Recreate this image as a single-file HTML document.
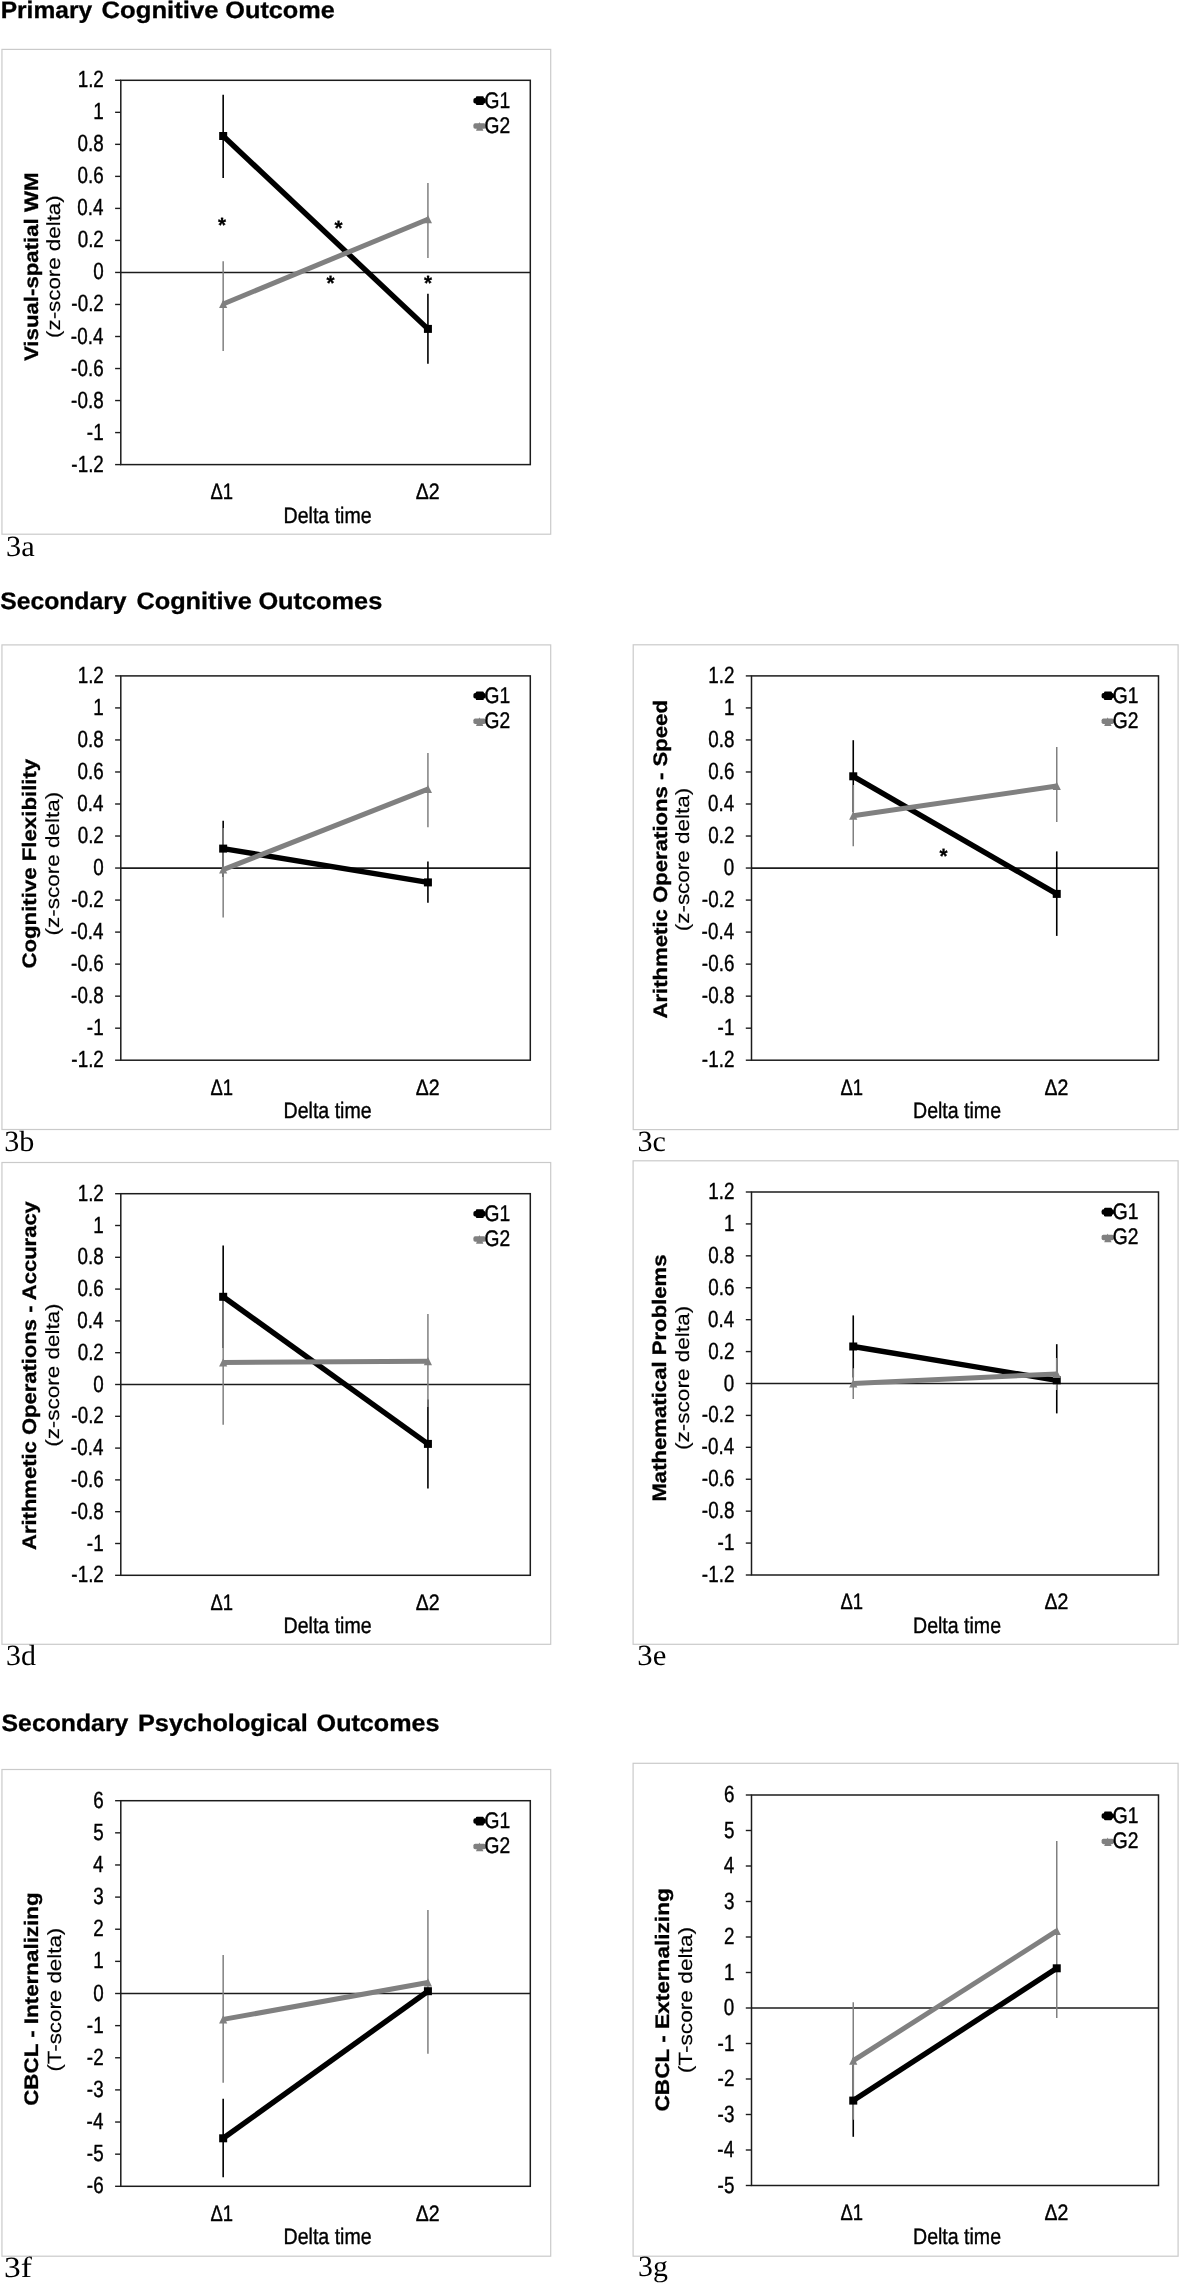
<!DOCTYPE html>
<html><head><meta charset="utf-8"><title>Figure 3</title>
<style>
html,body{margin:0;padding:0;background:#fff;}
body{width:1179px;height:2283px;overflow:hidden;font-family:"Liberation Sans",sans-serif;}
svg{display:block;will-change:transform;}
text{font-family:"Liberation Sans",sans-serif;text-rendering:geometricPrecision;}
text.b{font-weight:bold;}
text.n{stroke:#000;stroke-width:0.4px;}
text.r{stroke:#000;stroke-width:0.15px;}
text.b{stroke:#000;stroke-width:0.3px;}
text.s{font-family:"Liberation Serif",serif;}
</style></head><body>
<svg width="1179" height="2283" viewBox="0 0 1179 2283">
<rect width="1179" height="2283" fill="#fff"/>
<text class="b" transform="translate(0.66,18.00) scale(1.0316,1)" font-size="23.8" fill="#000">Primary</text>
<text class="b" transform="translate(101.57,18.00) scale(1.0778,1)" font-size="23.8" fill="#000">Cognitive</text>
<text class="b" transform="translate(225.29,18.00) scale(1.0623,1)" font-size="23.8" fill="#000">Outcome</text>
<text class="b" transform="translate(0.16,608.90) scale(1.0387,1)" font-size="23.8" fill="#000">Secondary</text>
<text class="b" transform="translate(136.39,608.90) scale(1.0637,1)" font-size="23.8" fill="#000">Cognitive</text>
<text class="b" transform="translate(258.39,608.90) scale(1.0640,1)" font-size="23.8" fill="#000">Outcomes</text>
<text class="b" transform="translate(1.56,1730.50) scale(1.0420,1)" font-size="23.8" fill="#000">Secondary</text>
<text class="b" transform="translate(138.02,1730.50) scale(1.0615,1)" font-size="23.8" fill="#000">Psychological</text>
<text class="b" transform="translate(316.60,1730.50) scale(1.0552,1)" font-size="23.8" fill="#000">Outcomes</text>
<rect x="1.95" y="49.4" width="548.75" height="484.80" fill="#fff" stroke="#cacaca" stroke-width="1.2"/>
<line x1="115.10" y1="80.30" x2="120.80" y2="80.30" stroke="#1c1c1c" stroke-width="1.4"/>
<text class="n" transform="translate(77.66,87.30) scale(0.8050,1)" font-size="23.4" fill="#000">1.2</text>
<line x1="115.10" y1="112.32" x2="120.80" y2="112.32" stroke="#1c1c1c" stroke-width="1.4"/>
<text class="n" transform="translate(93.36,119.32) scale(0.8050,1)" font-size="23.4" fill="#000">1</text>
<line x1="115.10" y1="144.35" x2="120.80" y2="144.35" stroke="#1c1c1c" stroke-width="1.4"/>
<text class="n" transform="translate(77.53,151.35) scale(0.8050,1)" font-size="23.4" fill="#000">0.8</text>
<line x1="115.10" y1="176.38" x2="120.80" y2="176.38" stroke="#1c1c1c" stroke-width="1.4"/>
<text class="n" transform="translate(77.53,183.38) scale(0.8050,1)" font-size="23.4" fill="#000">0.6</text>
<line x1="115.10" y1="208.40" x2="120.80" y2="208.40" stroke="#1c1c1c" stroke-width="1.4"/>
<text class="n" transform="translate(77.28,215.40) scale(0.8050,1)" font-size="23.4" fill="#000">0.4</text>
<line x1="115.10" y1="240.43" x2="120.80" y2="240.43" stroke="#1c1c1c" stroke-width="1.4"/>
<text class="n" transform="translate(77.66,247.43) scale(0.8050,1)" font-size="23.4" fill="#000">0.2</text>
<line x1="115.10" y1="272.45" x2="120.80" y2="272.45" stroke="#1c1c1c" stroke-width="1.4"/>
<text class="n" transform="translate(93.17,279.45) scale(0.8050,1)" font-size="23.4" fill="#000">0</text>
<line x1="115.10" y1="304.48" x2="120.80" y2="304.48" stroke="#1c1c1c" stroke-width="1.4"/>
<text class="n" transform="translate(77.66,311.48) scale(0.8050,1)" font-size="23.4">0.2</text>
<text class="n" transform="translate(71.14,311.48) scale(0.8050,1)" font-size="23.4">-</text>
<line x1="115.10" y1="336.50" x2="120.80" y2="336.50" stroke="#1c1c1c" stroke-width="1.4"/>
<text class="n" transform="translate(77.28,343.50) scale(0.8050,1)" font-size="23.4">0.4</text>
<text class="n" transform="translate(70.76,343.50) scale(0.8050,1)" font-size="23.4">-</text>
<line x1="115.10" y1="368.53" x2="120.80" y2="368.53" stroke="#1c1c1c" stroke-width="1.4"/>
<text class="n" transform="translate(77.53,375.53) scale(0.8050,1)" font-size="23.4">0.6</text>
<text class="n" transform="translate(71.01,375.53) scale(0.8050,1)" font-size="23.4">-</text>
<line x1="115.10" y1="400.55" x2="120.80" y2="400.55" stroke="#1c1c1c" stroke-width="1.4"/>
<text class="n" transform="translate(77.53,407.55) scale(0.8050,1)" font-size="23.4">0.8</text>
<text class="n" transform="translate(71.01,407.55) scale(0.8050,1)" font-size="23.4">-</text>
<line x1="115.10" y1="432.58" x2="120.80" y2="432.58" stroke="#1c1c1c" stroke-width="1.4"/>
<text class="n" transform="translate(93.36,439.58) scale(0.8050,1)" font-size="23.4">1</text>
<text class="n" transform="translate(86.83,439.58) scale(0.8050,1)" font-size="23.4">-</text>
<line x1="115.10" y1="464.60" x2="120.80" y2="464.60" stroke="#1c1c1c" stroke-width="1.4"/>
<text class="n" transform="translate(77.66,471.60) scale(0.8050,1)" font-size="23.4">1.2</text>
<text class="n" transform="translate(71.14,471.60) scale(0.8050,1)" font-size="23.4">-</text>
<line x1="120.80" y1="272.45" x2="530.30" y2="272.45" stroke="#1c1c1c" stroke-width="1.65"/>
<line x1="223.17" y1="94.80" x2="223.17" y2="178.00" stroke="#000" stroke-width="1.6"/>
<line x1="427.92" y1="293.70" x2="427.92" y2="363.70" stroke="#000" stroke-width="1.6"/>
<line x1="223.17" y1="261.20" x2="223.17" y2="351.00" stroke="#808080" stroke-width="1.5"/>
<line x1="427.92" y1="183.00" x2="427.92" y2="258.00" stroke="#808080" stroke-width="1.5"/>
<line x1="223.17" y1="136.00" x2="427.92" y2="328.90" stroke="#000" stroke-width="5.4"/>
<rect x="219.17" y="132.00" width="8.0" height="8.0" fill="#000"/>
<rect x="423.92" y="324.90" width="8.0" height="8.0" fill="#000"/>
<line x1="223.17" y1="304.00" x2="427.92" y2="219.20" stroke="#808080" stroke-width="5.0"/>
<path d="M223.17,299.80 L227.27,308.00 L219.07,308.00 Z" fill="#808080"/>
<path d="M427.92,215.00 L432.02,223.20 L423.82,223.20 Z" fill="#808080"/>
<rect x="120.80" y="80.30" width="409.50" height="384.30" fill="none" stroke="#1c1c1c" stroke-width="1.5"/>
<rect x="473.40" y="97.95" width="12.4" height="5.5" rx="1.8" fill="#000"/>
<rect x="475.80" y="96.30" width="8.0" height="8.7" rx="1.2" fill="#000"/>
<text class="n" transform="translate(484.59,107.60) scale(0.8503,1)" font-size="22.6" fill="#000">G1</text>
<rect x="473.40" y="123.35" width="12.4" height="5.5" rx="1.8" fill="#808080"/>
<path d="M479.40,122.10 L483.40,130.80 L476.00,130.80 Z" fill="#808080"/>
<text class="n" transform="translate(484.59,133.00) scale(0.8503,1)" font-size="22.6" fill="#000">G2</text>
<text class="n" transform="translate(210.42,499.00) scale(0.8239,1)" font-size="22.4" fill="#000">Δ1</text>
<text class="n" transform="translate(415.74,499.00) scale(0.8707,1)" font-size="22.4" fill="#000">Δ2</text>
<text class="n" transform="translate(283.57,522.60) scale(0.8731,1)" font-size="22.4" fill="#000">Delta time</text>
<text class="b" transform="translate(37.60,361.05) rotate(-90) scale(1.1391,1)" font-size="19.5" fill="#000">Visual-spatial WM</text>
<text class="r" transform="translate(60.10,337.91) rotate(-90) scale(1.1686,1)" font-size="19.1" fill="#000">(z-score delta)</text>
<text class="b" x="217.98" y="232.00" font-size="20.6">*</text>
<text class="b" x="334.48" y="234.60" font-size="20.6">*</text>
<text class="b" x="326.58" y="290.30" font-size="20.6">*</text>
<text class="b" x="423.98" y="290.30" font-size="20.6">*</text>
<text class="s" transform="translate(6.08,555.80) scale(1.0355,1)" font-size="29.3" fill="#000">3a</text>
<rect x="1.95" y="644.9" width="548.75" height="484.60" fill="#fff" stroke="#cacaca" stroke-width="1.2"/>
<line x1="115.10" y1="675.90" x2="120.80" y2="675.90" stroke="#1c1c1c" stroke-width="1.4"/>
<text class="n" transform="translate(77.66,682.90) scale(0.8050,1)" font-size="23.4" fill="#000">1.2</text>
<line x1="115.10" y1="707.92" x2="120.80" y2="707.92" stroke="#1c1c1c" stroke-width="1.4"/>
<text class="n" transform="translate(93.36,714.92) scale(0.8050,1)" font-size="23.4" fill="#000">1</text>
<line x1="115.10" y1="739.95" x2="120.80" y2="739.95" stroke="#1c1c1c" stroke-width="1.4"/>
<text class="n" transform="translate(77.53,746.95) scale(0.8050,1)" font-size="23.4" fill="#000">0.8</text>
<line x1="115.10" y1="771.98" x2="120.80" y2="771.98" stroke="#1c1c1c" stroke-width="1.4"/>
<text class="n" transform="translate(77.53,778.98) scale(0.8050,1)" font-size="23.4" fill="#000">0.6</text>
<line x1="115.10" y1="804.00" x2="120.80" y2="804.00" stroke="#1c1c1c" stroke-width="1.4"/>
<text class="n" transform="translate(77.28,811.00) scale(0.8050,1)" font-size="23.4" fill="#000">0.4</text>
<line x1="115.10" y1="836.02" x2="120.80" y2="836.02" stroke="#1c1c1c" stroke-width="1.4"/>
<text class="n" transform="translate(77.66,843.02) scale(0.8050,1)" font-size="23.4" fill="#000">0.2</text>
<line x1="115.10" y1="868.05" x2="120.80" y2="868.05" stroke="#1c1c1c" stroke-width="1.4"/>
<text class="n" transform="translate(93.17,875.05) scale(0.8050,1)" font-size="23.4" fill="#000">0</text>
<line x1="115.10" y1="900.08" x2="120.80" y2="900.08" stroke="#1c1c1c" stroke-width="1.4"/>
<text class="n" transform="translate(77.66,907.08) scale(0.8050,1)" font-size="23.4">0.2</text>
<text class="n" transform="translate(71.14,907.08) scale(0.8050,1)" font-size="23.4">-</text>
<line x1="115.10" y1="932.10" x2="120.80" y2="932.10" stroke="#1c1c1c" stroke-width="1.4"/>
<text class="n" transform="translate(77.28,939.10) scale(0.8050,1)" font-size="23.4">0.4</text>
<text class="n" transform="translate(70.76,939.10) scale(0.8050,1)" font-size="23.4">-</text>
<line x1="115.10" y1="964.12" x2="120.80" y2="964.12" stroke="#1c1c1c" stroke-width="1.4"/>
<text class="n" transform="translate(77.53,971.12) scale(0.8050,1)" font-size="23.4">0.6</text>
<text class="n" transform="translate(71.01,971.12) scale(0.8050,1)" font-size="23.4">-</text>
<line x1="115.10" y1="996.15" x2="120.80" y2="996.15" stroke="#1c1c1c" stroke-width="1.4"/>
<text class="n" transform="translate(77.53,1003.15) scale(0.8050,1)" font-size="23.4">0.8</text>
<text class="n" transform="translate(71.01,1003.15) scale(0.8050,1)" font-size="23.4">-</text>
<line x1="115.10" y1="1028.18" x2="120.80" y2="1028.18" stroke="#1c1c1c" stroke-width="1.4"/>
<text class="n" transform="translate(93.36,1035.18) scale(0.8050,1)" font-size="23.4">1</text>
<text class="n" transform="translate(86.83,1035.18) scale(0.8050,1)" font-size="23.4">-</text>
<line x1="115.10" y1="1060.20" x2="120.80" y2="1060.20" stroke="#1c1c1c" stroke-width="1.4"/>
<text class="n" transform="translate(77.66,1067.20) scale(0.8050,1)" font-size="23.4">1.2</text>
<text class="n" transform="translate(71.14,1067.20) scale(0.8050,1)" font-size="23.4">-</text>
<line x1="120.80" y1="868.05" x2="530.30" y2="868.05" stroke="#1c1c1c" stroke-width="1.65"/>
<line x1="223.17" y1="820.80" x2="223.17" y2="877.00" stroke="#000" stroke-width="1.6"/>
<line x1="427.92" y1="861.60" x2="427.92" y2="902.80" stroke="#000" stroke-width="1.6"/>
<line x1="223.17" y1="827.90" x2="223.17" y2="917.60" stroke="#808080" stroke-width="1.5"/>
<line x1="427.92" y1="752.90" x2="427.92" y2="827.20" stroke="#808080" stroke-width="1.5"/>
<line x1="223.17" y1="848.60" x2="427.92" y2="882.40" stroke="#000" stroke-width="5.4"/>
<rect x="219.17" y="844.60" width="8.0" height="8.0" fill="#000"/>
<rect x="423.92" y="878.40" width="8.0" height="8.0" fill="#000"/>
<line x1="223.17" y1="869.60" x2="427.92" y2="789.10" stroke="#808080" stroke-width="5.0"/>
<path d="M223.17,865.40 L227.27,873.60 L219.07,873.60 Z" fill="#808080"/>
<path d="M427.92,784.90 L432.02,793.10 L423.82,793.10 Z" fill="#808080"/>
<rect x="120.80" y="675.90" width="409.50" height="384.30" fill="none" stroke="#1c1c1c" stroke-width="1.5"/>
<rect x="473.40" y="693.05" width="12.4" height="5.5" rx="1.8" fill="#000"/>
<rect x="475.80" y="691.40" width="8.0" height="8.7" rx="1.2" fill="#000"/>
<text class="n" transform="translate(484.59,702.70) scale(0.8503,1)" font-size="22.6" fill="#000">G1</text>
<rect x="473.40" y="718.45" width="12.4" height="5.5" rx="1.8" fill="#808080"/>
<path d="M479.40,717.20 L483.40,725.90 L476.00,725.90 Z" fill="#808080"/>
<text class="n" transform="translate(484.59,728.10) scale(0.8503,1)" font-size="22.6" fill="#000">G2</text>
<text class="n" transform="translate(210.42,1094.60) scale(0.8239,1)" font-size="22.4" fill="#000">Δ1</text>
<text class="n" transform="translate(415.74,1094.60) scale(0.8707,1)" font-size="22.4" fill="#000">Δ2</text>
<text class="n" transform="translate(283.57,1118.20) scale(0.8731,1)" font-size="22.4" fill="#000">Delta time</text>
<text class="b" transform="translate(36.00,968.59) rotate(-90) scale(1.1391,1)" font-size="19.5" fill="#000">Cognitive Flexibility</text>
<text class="r" transform="translate(58.60,935.42) rotate(-90) scale(1.1778,1)" font-size="19.1" fill="#000">(z-score delta)</text>
<text class="s" transform="translate(4.19,1151.10) scale(1.0276,1)" font-size="29.3" fill="#000">3b</text>
<rect x="633.2" y="644.8" width="544.90" height="484.80" fill="#fff" stroke="#cacaca" stroke-width="1.2"/>
<line x1="745.80" y1="675.90" x2="751.50" y2="675.90" stroke="#1c1c1c" stroke-width="1.4"/>
<text class="n" transform="translate(708.36,682.90) scale(0.8050,1)" font-size="23.4" fill="#000">1.2</text>
<line x1="745.80" y1="707.92" x2="751.50" y2="707.92" stroke="#1c1c1c" stroke-width="1.4"/>
<text class="n" transform="translate(724.06,714.92) scale(0.8050,1)" font-size="23.4" fill="#000">1</text>
<line x1="745.80" y1="739.95" x2="751.50" y2="739.95" stroke="#1c1c1c" stroke-width="1.4"/>
<text class="n" transform="translate(708.23,746.95) scale(0.8050,1)" font-size="23.4" fill="#000">0.8</text>
<line x1="745.80" y1="771.98" x2="751.50" y2="771.98" stroke="#1c1c1c" stroke-width="1.4"/>
<text class="n" transform="translate(708.23,778.98) scale(0.8050,1)" font-size="23.4" fill="#000">0.6</text>
<line x1="745.80" y1="804.00" x2="751.50" y2="804.00" stroke="#1c1c1c" stroke-width="1.4"/>
<text class="n" transform="translate(707.98,811.00) scale(0.8050,1)" font-size="23.4" fill="#000">0.4</text>
<line x1="745.80" y1="836.02" x2="751.50" y2="836.02" stroke="#1c1c1c" stroke-width="1.4"/>
<text class="n" transform="translate(708.36,843.02) scale(0.8050,1)" font-size="23.4" fill="#000">0.2</text>
<line x1="745.80" y1="868.05" x2="751.50" y2="868.05" stroke="#1c1c1c" stroke-width="1.4"/>
<text class="n" transform="translate(723.87,875.05) scale(0.8050,1)" font-size="23.4" fill="#000">0</text>
<line x1="745.80" y1="900.08" x2="751.50" y2="900.08" stroke="#1c1c1c" stroke-width="1.4"/>
<text class="n" transform="translate(708.36,907.08) scale(0.8050,1)" font-size="23.4">0.2</text>
<text class="n" transform="translate(701.84,907.08) scale(0.8050,1)" font-size="23.4">-</text>
<line x1="745.80" y1="932.10" x2="751.50" y2="932.10" stroke="#1c1c1c" stroke-width="1.4"/>
<text class="n" transform="translate(707.98,939.10) scale(0.8050,1)" font-size="23.4">0.4</text>
<text class="n" transform="translate(701.46,939.10) scale(0.8050,1)" font-size="23.4">-</text>
<line x1="745.80" y1="964.12" x2="751.50" y2="964.12" stroke="#1c1c1c" stroke-width="1.4"/>
<text class="n" transform="translate(708.23,971.12) scale(0.8050,1)" font-size="23.4">0.6</text>
<text class="n" transform="translate(701.71,971.12) scale(0.8050,1)" font-size="23.4">-</text>
<line x1="745.80" y1="996.15" x2="751.50" y2="996.15" stroke="#1c1c1c" stroke-width="1.4"/>
<text class="n" transform="translate(708.23,1003.15) scale(0.8050,1)" font-size="23.4">0.8</text>
<text class="n" transform="translate(701.71,1003.15) scale(0.8050,1)" font-size="23.4">-</text>
<line x1="745.80" y1="1028.18" x2="751.50" y2="1028.18" stroke="#1c1c1c" stroke-width="1.4"/>
<text class="n" transform="translate(724.06,1035.18) scale(0.8050,1)" font-size="23.4">1</text>
<text class="n" transform="translate(717.53,1035.18) scale(0.8050,1)" font-size="23.4">-</text>
<line x1="745.80" y1="1060.20" x2="751.50" y2="1060.20" stroke="#1c1c1c" stroke-width="1.4"/>
<text class="n" transform="translate(708.36,1067.20) scale(0.8050,1)" font-size="23.4">1.2</text>
<text class="n" transform="translate(701.84,1067.20) scale(0.8050,1)" font-size="23.4">-</text>
<line x1="751.50" y1="868.05" x2="1158.50" y2="868.05" stroke="#1c1c1c" stroke-width="1.65"/>
<line x1="853.25" y1="740.20" x2="853.25" y2="812.00" stroke="#000" stroke-width="1.6"/>
<line x1="1056.75" y1="851.40" x2="1056.75" y2="935.90" stroke="#000" stroke-width="1.6"/>
<line x1="853.25" y1="785.00" x2="853.25" y2="846.30" stroke="#808080" stroke-width="1.5"/>
<line x1="1056.75" y1="747.10" x2="1056.75" y2="822.10" stroke="#808080" stroke-width="1.5"/>
<line x1="853.25" y1="776.30" x2="1056.75" y2="893.90" stroke="#000" stroke-width="5.4"/>
<rect x="849.25" y="772.30" width="8.0" height="8.0" fill="#000"/>
<rect x="1052.75" y="889.90" width="8.0" height="8.0" fill="#000"/>
<line x1="853.25" y1="815.80" x2="1056.75" y2="786.00" stroke="#808080" stroke-width="5.0"/>
<path d="M853.25,811.60 L857.35,819.80 L849.15,819.80 Z" fill="#808080"/>
<path d="M1056.75,781.80 L1060.85,790.00 L1052.65,790.00 Z" fill="#808080"/>
<rect x="751.50" y="675.90" width="407.00" height="384.30" fill="none" stroke="#1c1c1c" stroke-width="1.5"/>
<rect x="1101.60" y="693.05" width="12.4" height="5.5" rx="1.8" fill="#000"/>
<rect x="1104.00" y="691.40" width="8.0" height="8.7" rx="1.2" fill="#000"/>
<text class="n" transform="translate(1112.79,702.70) scale(0.8503,1)" font-size="22.6" fill="#000">G1</text>
<rect x="1101.60" y="718.45" width="12.4" height="5.5" rx="1.8" fill="#808080"/>
<path d="M1107.60,717.20 L1111.60,725.90 L1104.20,725.90 Z" fill="#808080"/>
<text class="n" transform="translate(1112.79,728.10) scale(0.8503,1)" font-size="22.6" fill="#000">G2</text>
<text class="n" transform="translate(840.50,1094.60) scale(0.8239,1)" font-size="22.4" fill="#000">Δ1</text>
<text class="n" transform="translate(1044.56,1094.60) scale(0.8707,1)" font-size="22.4" fill="#000">Δ2</text>
<text class="n" transform="translate(913.02,1118.20) scale(0.8731,1)" font-size="22.4" fill="#000">Delta time</text>
<text class="b" transform="translate(667.30,1018.49) rotate(-90) scale(1.1346,1)" font-size="19.5" fill="#000">Arithmetic Operations - Speed</text>
<text class="r" transform="translate(689.20,931.32) rotate(-90) scale(1.1770,1)" font-size="19.1" fill="#000">(z-score delta)</text>
<text class="b" x="939.58" y="863.40" font-size="20.6">*</text>
<text class="s" transform="translate(637.39,1151.10) scale(1.0278,1)" font-size="29.3" fill="#000">3c</text>
<rect x="1.95" y="1162.5" width="548.75" height="481.80" fill="#fff" stroke="#cacaca" stroke-width="1.2"/>
<line x1="115.10" y1="1193.70" x2="120.80" y2="1193.70" stroke="#1c1c1c" stroke-width="1.4"/>
<text class="n" transform="translate(77.66,1200.70) scale(0.8050,1)" font-size="23.4" fill="#000">1.2</text>
<line x1="115.10" y1="1225.50" x2="120.80" y2="1225.50" stroke="#1c1c1c" stroke-width="1.4"/>
<text class="n" transform="translate(93.36,1232.50) scale(0.8050,1)" font-size="23.4" fill="#000">1</text>
<line x1="115.10" y1="1257.30" x2="120.80" y2="1257.30" stroke="#1c1c1c" stroke-width="1.4"/>
<text class="n" transform="translate(77.53,1264.30) scale(0.8050,1)" font-size="23.4" fill="#000">0.8</text>
<line x1="115.10" y1="1289.10" x2="120.80" y2="1289.10" stroke="#1c1c1c" stroke-width="1.4"/>
<text class="n" transform="translate(77.53,1296.10) scale(0.8050,1)" font-size="23.4" fill="#000">0.6</text>
<line x1="115.10" y1="1320.90" x2="120.80" y2="1320.90" stroke="#1c1c1c" stroke-width="1.4"/>
<text class="n" transform="translate(77.28,1327.90) scale(0.8050,1)" font-size="23.4" fill="#000">0.4</text>
<line x1="115.10" y1="1352.70" x2="120.80" y2="1352.70" stroke="#1c1c1c" stroke-width="1.4"/>
<text class="n" transform="translate(77.66,1359.70) scale(0.8050,1)" font-size="23.4" fill="#000">0.2</text>
<line x1="115.10" y1="1384.50" x2="120.80" y2="1384.50" stroke="#1c1c1c" stroke-width="1.4"/>
<text class="n" transform="translate(93.17,1391.50) scale(0.8050,1)" font-size="23.4" fill="#000">0</text>
<line x1="115.10" y1="1416.30" x2="120.80" y2="1416.30" stroke="#1c1c1c" stroke-width="1.4"/>
<text class="n" transform="translate(77.66,1423.30) scale(0.8050,1)" font-size="23.4">0.2</text>
<text class="n" transform="translate(71.14,1423.30) scale(0.8050,1)" font-size="23.4">-</text>
<line x1="115.10" y1="1448.10" x2="120.80" y2="1448.10" stroke="#1c1c1c" stroke-width="1.4"/>
<text class="n" transform="translate(77.28,1455.10) scale(0.8050,1)" font-size="23.4">0.4</text>
<text class="n" transform="translate(70.76,1455.10) scale(0.8050,1)" font-size="23.4">-</text>
<line x1="115.10" y1="1479.90" x2="120.80" y2="1479.90" stroke="#1c1c1c" stroke-width="1.4"/>
<text class="n" transform="translate(77.53,1486.90) scale(0.8050,1)" font-size="23.4">0.6</text>
<text class="n" transform="translate(71.01,1486.90) scale(0.8050,1)" font-size="23.4">-</text>
<line x1="115.10" y1="1511.70" x2="120.80" y2="1511.70" stroke="#1c1c1c" stroke-width="1.4"/>
<text class="n" transform="translate(77.53,1518.70) scale(0.8050,1)" font-size="23.4">0.8</text>
<text class="n" transform="translate(71.01,1518.70) scale(0.8050,1)" font-size="23.4">-</text>
<line x1="115.10" y1="1543.50" x2="120.80" y2="1543.50" stroke="#1c1c1c" stroke-width="1.4"/>
<text class="n" transform="translate(93.36,1550.50) scale(0.8050,1)" font-size="23.4">1</text>
<text class="n" transform="translate(86.83,1550.50) scale(0.8050,1)" font-size="23.4">-</text>
<line x1="115.10" y1="1575.30" x2="120.80" y2="1575.30" stroke="#1c1c1c" stroke-width="1.4"/>
<text class="n" transform="translate(77.66,1582.30) scale(0.8050,1)" font-size="23.4">1.2</text>
<text class="n" transform="translate(71.14,1582.30) scale(0.8050,1)" font-size="23.4">-</text>
<line x1="120.80" y1="1384.50" x2="530.30" y2="1384.50" stroke="#1c1c1c" stroke-width="1.65"/>
<line x1="223.17" y1="1245.40" x2="223.17" y2="1348.00" stroke="#000" stroke-width="1.6"/>
<line x1="427.92" y1="1399.50" x2="427.92" y2="1488.40" stroke="#000" stroke-width="1.6"/>
<line x1="223.17" y1="1300.00" x2="223.17" y2="1424.80" stroke="#808080" stroke-width="1.5"/>
<line x1="427.92" y1="1314.10" x2="427.92" y2="1407.00" stroke="#808080" stroke-width="1.5"/>
<line x1="223.17" y1="1296.80" x2="427.92" y2="1443.90" stroke="#000" stroke-width="5.4"/>
<rect x="219.17" y="1292.80" width="8.0" height="8.0" fill="#000"/>
<rect x="423.92" y="1439.90" width="8.0" height="8.0" fill="#000"/>
<line x1="223.17" y1="1362.50" x2="427.92" y2="1361.20" stroke="#808080" stroke-width="5.0"/>
<path d="M223.17,1358.30 L227.27,1366.50 L219.07,1366.50 Z" fill="#808080"/>
<path d="M427.92,1357.00 L432.02,1365.20 L423.82,1365.20 Z" fill="#808080"/>
<rect x="120.80" y="1193.70" width="409.50" height="381.60" fill="none" stroke="#1c1c1c" stroke-width="1.5"/>
<rect x="473.40" y="1210.95" width="12.4" height="5.5" rx="1.8" fill="#000"/>
<rect x="475.80" y="1209.30" width="8.0" height="8.7" rx="1.2" fill="#000"/>
<text class="n" transform="translate(484.59,1220.60) scale(0.8503,1)" font-size="22.6" fill="#000">G1</text>
<rect x="473.40" y="1236.35" width="12.4" height="5.5" rx="1.8" fill="#808080"/>
<path d="M479.40,1235.10 L483.40,1243.80 L476.00,1243.80 Z" fill="#808080"/>
<text class="n" transform="translate(484.59,1246.00) scale(0.8503,1)" font-size="22.6" fill="#000">G2</text>
<text class="n" transform="translate(210.42,1609.70) scale(0.8239,1)" font-size="22.4" fill="#000">Δ1</text>
<text class="n" transform="translate(415.74,1609.70) scale(0.8707,1)" font-size="22.4" fill="#000">Δ2</text>
<text class="n" transform="translate(283.57,1633.30) scale(0.8731,1)" font-size="22.4" fill="#000">Delta time</text>
<text class="b" transform="translate(36.10,1549.99) rotate(-90) scale(1.1282,1)" font-size="19.5" fill="#000">Arithmetic Operations - Accuracy</text>
<text class="r" transform="translate(58.60,1446.82) rotate(-90) scale(1.1753,1)" font-size="19.1" fill="#000">(z-score delta)</text>
<text class="s" transform="translate(6.10,1664.60) scale(1.0203,1)" font-size="29.3" fill="#000">3d</text>
<rect x="633.1" y="1160.8" width="545.00" height="483.50" fill="#fff" stroke="#cacaca" stroke-width="1.2"/>
<line x1="745.80" y1="1192.00" x2="751.50" y2="1192.00" stroke="#1c1c1c" stroke-width="1.4"/>
<text class="n" transform="translate(708.36,1199.00) scale(0.8050,1)" font-size="23.4" fill="#000">1.2</text>
<line x1="745.80" y1="1223.92" x2="751.50" y2="1223.92" stroke="#1c1c1c" stroke-width="1.4"/>
<text class="n" transform="translate(724.06,1230.92) scale(0.8050,1)" font-size="23.4" fill="#000">1</text>
<line x1="745.80" y1="1255.83" x2="751.50" y2="1255.83" stroke="#1c1c1c" stroke-width="1.4"/>
<text class="n" transform="translate(708.23,1262.83) scale(0.8050,1)" font-size="23.4" fill="#000">0.8</text>
<line x1="745.80" y1="1287.75" x2="751.50" y2="1287.75" stroke="#1c1c1c" stroke-width="1.4"/>
<text class="n" transform="translate(708.23,1294.75) scale(0.8050,1)" font-size="23.4" fill="#000">0.6</text>
<line x1="745.80" y1="1319.67" x2="751.50" y2="1319.67" stroke="#1c1c1c" stroke-width="1.4"/>
<text class="n" transform="translate(707.98,1326.67) scale(0.8050,1)" font-size="23.4" fill="#000">0.4</text>
<line x1="745.80" y1="1351.58" x2="751.50" y2="1351.58" stroke="#1c1c1c" stroke-width="1.4"/>
<text class="n" transform="translate(708.36,1358.58) scale(0.8050,1)" font-size="23.4" fill="#000">0.2</text>
<line x1="745.80" y1="1383.50" x2="751.50" y2="1383.50" stroke="#1c1c1c" stroke-width="1.4"/>
<text class="n" transform="translate(723.87,1390.50) scale(0.8050,1)" font-size="23.4" fill="#000">0</text>
<line x1="745.80" y1="1415.42" x2="751.50" y2="1415.42" stroke="#1c1c1c" stroke-width="1.4"/>
<text class="n" transform="translate(708.36,1422.42) scale(0.8050,1)" font-size="23.4">0.2</text>
<text class="n" transform="translate(701.84,1422.42) scale(0.8050,1)" font-size="23.4">-</text>
<line x1="745.80" y1="1447.33" x2="751.50" y2="1447.33" stroke="#1c1c1c" stroke-width="1.4"/>
<text class="n" transform="translate(707.98,1454.33) scale(0.8050,1)" font-size="23.4">0.4</text>
<text class="n" transform="translate(701.46,1454.33) scale(0.8050,1)" font-size="23.4">-</text>
<line x1="745.80" y1="1479.25" x2="751.50" y2="1479.25" stroke="#1c1c1c" stroke-width="1.4"/>
<text class="n" transform="translate(708.23,1486.25) scale(0.8050,1)" font-size="23.4">0.6</text>
<text class="n" transform="translate(701.71,1486.25) scale(0.8050,1)" font-size="23.4">-</text>
<line x1="745.80" y1="1511.17" x2="751.50" y2="1511.17" stroke="#1c1c1c" stroke-width="1.4"/>
<text class="n" transform="translate(708.23,1518.17) scale(0.8050,1)" font-size="23.4">0.8</text>
<text class="n" transform="translate(701.71,1518.17) scale(0.8050,1)" font-size="23.4">-</text>
<line x1="745.80" y1="1543.08" x2="751.50" y2="1543.08" stroke="#1c1c1c" stroke-width="1.4"/>
<text class="n" transform="translate(724.06,1550.08) scale(0.8050,1)" font-size="23.4">1</text>
<text class="n" transform="translate(717.53,1550.08) scale(0.8050,1)" font-size="23.4">-</text>
<line x1="745.80" y1="1575.00" x2="751.50" y2="1575.00" stroke="#1c1c1c" stroke-width="1.4"/>
<text class="n" transform="translate(708.36,1582.00) scale(0.8050,1)" font-size="23.4">1.2</text>
<text class="n" transform="translate(701.84,1582.00) scale(0.8050,1)" font-size="23.4">-</text>
<line x1="751.50" y1="1383.50" x2="1158.50" y2="1383.50" stroke="#1c1c1c" stroke-width="1.65"/>
<line x1="853.25" y1="1315.40" x2="853.25" y2="1377.50" stroke="#000" stroke-width="1.6"/>
<line x1="1056.75" y1="1344.20" x2="1056.75" y2="1413.40" stroke="#000" stroke-width="1.6"/>
<line x1="853.25" y1="1368.30" x2="853.25" y2="1398.90" stroke="#808080" stroke-width="1.5"/>
<line x1="1056.75" y1="1358.00" x2="1056.75" y2="1390.00" stroke="#808080" stroke-width="1.5"/>
<line x1="853.25" y1="1346.50" x2="1056.75" y2="1380.30" stroke="#000" stroke-width="5.4"/>
<rect x="849.25" y="1342.50" width="8.0" height="8.0" fill="#000"/>
<rect x="1052.75" y="1376.30" width="8.0" height="8.0" fill="#000"/>
<line x1="853.25" y1="1383.60" x2="1056.75" y2="1373.90" stroke="#808080" stroke-width="5.0"/>
<path d="M853.25,1379.40 L857.35,1387.60 L849.15,1387.60 Z" fill="#808080"/>
<path d="M1056.75,1369.70 L1060.85,1377.90 L1052.65,1377.90 Z" fill="#808080"/>
<rect x="751.50" y="1192.00" width="407.00" height="383.00" fill="none" stroke="#1c1c1c" stroke-width="1.5"/>
<rect x="1101.60" y="1209.35" width="12.4" height="5.5" rx="1.8" fill="#000"/>
<rect x="1104.00" y="1207.70" width="8.0" height="8.7" rx="1.2" fill="#000"/>
<text class="n" transform="translate(1112.79,1219.00) scale(0.8503,1)" font-size="22.6" fill="#000">G1</text>
<rect x="1101.60" y="1234.75" width="12.4" height="5.5" rx="1.8" fill="#808080"/>
<path d="M1107.60,1233.50 L1111.60,1242.20 L1104.20,1242.20 Z" fill="#808080"/>
<text class="n" transform="translate(1112.79,1244.40) scale(0.8503,1)" font-size="22.6" fill="#000">G2</text>
<text class="n" transform="translate(840.50,1609.40) scale(0.8239,1)" font-size="22.4" fill="#000">Δ1</text>
<text class="n" transform="translate(1044.56,1609.40) scale(0.8707,1)" font-size="22.4" fill="#000">Δ2</text>
<text class="n" transform="translate(913.02,1633.00) scale(0.8731,1)" font-size="22.4" fill="#000">Delta time</text>
<text class="b" transform="translate(666.40,1501.58) rotate(-90) scale(1.1347,1)" font-size="19.5" fill="#000">Mathematical Problems</text>
<text class="r" transform="translate(689.10,1450.03) rotate(-90) scale(1.1820,1)" font-size="19.1" fill="#000">(z-score delta)</text>
<text class="s" transform="translate(637.37,1665.10) scale(1.0476,1)" font-size="29.3" fill="#000">3e</text>
<rect x="1.95" y="1769.5" width="548.75" height="486.70" fill="#fff" stroke="#cacaca" stroke-width="1.2"/>
<line x1="115.10" y1="1800.70" x2="120.80" y2="1800.70" stroke="#1c1c1c" stroke-width="1.4"/>
<text class="n" transform="translate(93.23,1807.70) scale(0.8050,1)" font-size="23.4" fill="#000">6</text>
<line x1="115.10" y1="1832.83" x2="120.80" y2="1832.83" stroke="#1c1c1c" stroke-width="1.4"/>
<text class="n" transform="translate(93.23,1839.83) scale(0.8050,1)" font-size="23.4" fill="#000">5</text>
<line x1="115.10" y1="1864.97" x2="120.80" y2="1864.97" stroke="#1c1c1c" stroke-width="1.4"/>
<text class="n" transform="translate(92.98,1871.97) scale(0.8050,1)" font-size="23.4" fill="#000">4</text>
<line x1="115.10" y1="1897.10" x2="120.80" y2="1897.10" stroke="#1c1c1c" stroke-width="1.4"/>
<text class="n" transform="translate(93.23,1904.10) scale(0.8050,1)" font-size="23.4" fill="#000">3</text>
<line x1="115.10" y1="1929.23" x2="120.80" y2="1929.23" stroke="#1c1c1c" stroke-width="1.4"/>
<text class="n" transform="translate(93.36,1936.23) scale(0.8050,1)" font-size="23.4" fill="#000">2</text>
<line x1="115.10" y1="1961.37" x2="120.80" y2="1961.37" stroke="#1c1c1c" stroke-width="1.4"/>
<text class="n" transform="translate(93.36,1968.37) scale(0.8050,1)" font-size="23.4" fill="#000">1</text>
<line x1="115.10" y1="1993.50" x2="120.80" y2="1993.50" stroke="#1c1c1c" stroke-width="1.4"/>
<text class="n" transform="translate(93.17,2000.50) scale(0.8050,1)" font-size="23.4" fill="#000">0</text>
<line x1="115.10" y1="2025.63" x2="120.80" y2="2025.63" stroke="#1c1c1c" stroke-width="1.4"/>
<text class="n" transform="translate(93.36,2032.63) scale(0.8050,1)" font-size="23.4">1</text>
<text class="n" transform="translate(86.83,2032.63) scale(0.8050,1)" font-size="23.4">-</text>
<line x1="115.10" y1="2057.77" x2="120.80" y2="2057.77" stroke="#1c1c1c" stroke-width="1.4"/>
<text class="n" transform="translate(93.36,2064.77) scale(0.8050,1)" font-size="23.4">2</text>
<text class="n" transform="translate(86.83,2064.77) scale(0.8050,1)" font-size="23.4">-</text>
<line x1="115.10" y1="2089.90" x2="120.80" y2="2089.90" stroke="#1c1c1c" stroke-width="1.4"/>
<text class="n" transform="translate(93.23,2096.90) scale(0.8050,1)" font-size="23.4">3</text>
<text class="n" transform="translate(86.71,2096.90) scale(0.8050,1)" font-size="23.4">-</text>
<line x1="115.10" y1="2122.03" x2="120.80" y2="2122.03" stroke="#1c1c1c" stroke-width="1.4"/>
<text class="n" transform="translate(92.98,2129.03) scale(0.8050,1)" font-size="23.4">4</text>
<text class="n" transform="translate(86.46,2129.03) scale(0.8050,1)" font-size="23.4">-</text>
<line x1="115.10" y1="2154.17" x2="120.80" y2="2154.17" stroke="#1c1c1c" stroke-width="1.4"/>
<text class="n" transform="translate(93.23,2161.17) scale(0.8050,1)" font-size="23.4">5</text>
<text class="n" transform="translate(86.71,2161.17) scale(0.8050,1)" font-size="23.4">-</text>
<line x1="115.10" y1="2186.30" x2="120.80" y2="2186.30" stroke="#1c1c1c" stroke-width="1.4"/>
<text class="n" transform="translate(93.23,2193.30) scale(0.8050,1)" font-size="23.4">6</text>
<text class="n" transform="translate(86.71,2193.30) scale(0.8050,1)" font-size="23.4">-</text>
<line x1="120.80" y1="1993.50" x2="530.30" y2="1993.50" stroke="#1c1c1c" stroke-width="1.65"/>
<line x1="223.17" y1="2098.80" x2="223.17" y2="2177.20" stroke="#000" stroke-width="1.6"/>
<line x1="223.17" y1="1955.10" x2="223.17" y2="2082.80" stroke="#808080" stroke-width="1.5"/>
<line x1="427.92" y1="1910.00" x2="427.92" y2="2053.80" stroke="#808080" stroke-width="1.5"/>
<line x1="223.17" y1="2138.30" x2="427.92" y2="1991.20" stroke="#000" stroke-width="5.4"/>
<rect x="219.17" y="2134.30" width="8.0" height="8.0" fill="#000"/>
<rect x="423.92" y="1987.20" width="8.0" height="8.0" fill="#000"/>
<line x1="223.17" y1="2019.40" x2="427.92" y2="1982.50" stroke="#808080" stroke-width="5.0"/>
<path d="M223.17,2015.20 L227.27,2023.40 L219.07,2023.40 Z" fill="#808080"/>
<path d="M427.92,1978.30 L432.02,1986.50 L423.82,1986.50 Z" fill="#808080"/>
<rect x="120.80" y="1800.70" width="409.50" height="385.60" fill="none" stroke="#1c1c1c" stroke-width="1.5"/>
<rect x="473.40" y="1818.35" width="12.4" height="5.5" rx="1.8" fill="#000"/>
<rect x="475.80" y="1816.70" width="8.0" height="8.7" rx="1.2" fill="#000"/>
<text class="n" transform="translate(484.59,1828.00) scale(0.8503,1)" font-size="22.6" fill="#000">G1</text>
<rect x="473.40" y="1843.75" width="12.4" height="5.5" rx="1.8" fill="#808080"/>
<path d="M479.40,1842.50 L483.40,1851.20 L476.00,1851.20 Z" fill="#808080"/>
<text class="n" transform="translate(484.59,1853.40) scale(0.8503,1)" font-size="22.6" fill="#000">G2</text>
<text class="n" transform="translate(210.42,2220.70) scale(0.8239,1)" font-size="22.4" fill="#000">Δ1</text>
<text class="n" transform="translate(415.74,2220.70) scale(0.8707,1)" font-size="22.4" fill="#000">Δ2</text>
<text class="n" transform="translate(283.57,2244.30) scale(0.8731,1)" font-size="22.4" fill="#000">Delta time</text>
<text class="b" transform="translate(37.60,2105.80) rotate(-90) scale(1.1475,1)" font-size="19.5" fill="#000">CBCL - Internalizing</text>
<text class="r" transform="translate(60.60,2071.61) rotate(-90) scale(1.1689,1)" font-size="19.1" fill="#000">(T-score delta)</text>
<text class="s" transform="translate(4.04,2276.60) scale(1.1410,1)" font-size="29.3" fill="#000">3f</text>
<rect x="633.1" y="1763.3" width="545.00" height="492.90" fill="#fff" stroke="#cacaca" stroke-width="1.2"/>
<line x1="745.80" y1="1795.00" x2="751.50" y2="1795.00" stroke="#1c1c1c" stroke-width="1.4"/>
<text class="n" transform="translate(723.93,1802.00) scale(0.8050,1)" font-size="23.4" fill="#000">6</text>
<line x1="745.80" y1="1830.50" x2="751.50" y2="1830.50" stroke="#1c1c1c" stroke-width="1.4"/>
<text class="n" transform="translate(723.93,1837.50) scale(0.8050,1)" font-size="23.4" fill="#000">5</text>
<line x1="745.80" y1="1866.00" x2="751.50" y2="1866.00" stroke="#1c1c1c" stroke-width="1.4"/>
<text class="n" transform="translate(723.68,1873.00) scale(0.8050,1)" font-size="23.4" fill="#000">4</text>
<line x1="745.80" y1="1901.50" x2="751.50" y2="1901.50" stroke="#1c1c1c" stroke-width="1.4"/>
<text class="n" transform="translate(723.93,1908.50) scale(0.8050,1)" font-size="23.4" fill="#000">3</text>
<line x1="745.80" y1="1937.00" x2="751.50" y2="1937.00" stroke="#1c1c1c" stroke-width="1.4"/>
<text class="n" transform="translate(724.06,1944.00) scale(0.8050,1)" font-size="23.4" fill="#000">2</text>
<line x1="745.80" y1="1972.50" x2="751.50" y2="1972.50" stroke="#1c1c1c" stroke-width="1.4"/>
<text class="n" transform="translate(724.06,1979.50) scale(0.8050,1)" font-size="23.4" fill="#000">1</text>
<line x1="745.80" y1="2008.00" x2="751.50" y2="2008.00" stroke="#1c1c1c" stroke-width="1.4"/>
<text class="n" transform="translate(723.87,2015.00) scale(0.8050,1)" font-size="23.4" fill="#000">0</text>
<line x1="745.80" y1="2043.50" x2="751.50" y2="2043.50" stroke="#1c1c1c" stroke-width="1.4"/>
<text class="n" transform="translate(724.06,2050.50) scale(0.8050,1)" font-size="23.4">1</text>
<text class="n" transform="translate(717.53,2050.50) scale(0.8050,1)" font-size="23.4">-</text>
<line x1="745.80" y1="2079.00" x2="751.50" y2="2079.00" stroke="#1c1c1c" stroke-width="1.4"/>
<text class="n" transform="translate(724.06,2086.00) scale(0.8050,1)" font-size="23.4">2</text>
<text class="n" transform="translate(717.53,2086.00) scale(0.8050,1)" font-size="23.4">-</text>
<line x1="745.80" y1="2114.50" x2="751.50" y2="2114.50" stroke="#1c1c1c" stroke-width="1.4"/>
<text class="n" transform="translate(723.93,2121.50) scale(0.8050,1)" font-size="23.4">3</text>
<text class="n" transform="translate(717.41,2121.50) scale(0.8050,1)" font-size="23.4">-</text>
<line x1="745.80" y1="2150.00" x2="751.50" y2="2150.00" stroke="#1c1c1c" stroke-width="1.4"/>
<text class="n" transform="translate(723.68,2157.00) scale(0.8050,1)" font-size="23.4">4</text>
<text class="n" transform="translate(717.16,2157.00) scale(0.8050,1)" font-size="23.4">-</text>
<line x1="745.80" y1="2185.50" x2="751.50" y2="2185.50" stroke="#1c1c1c" stroke-width="1.4"/>
<text class="n" transform="translate(723.93,2192.50) scale(0.8050,1)" font-size="23.4">5</text>
<text class="n" transform="translate(717.41,2192.50) scale(0.8050,1)" font-size="23.4">-</text>
<line x1="751.50" y1="2008.00" x2="1158.50" y2="2008.00" stroke="#1c1c1c" stroke-width="1.65"/>
<line x1="853.25" y1="2065.00" x2="853.25" y2="2136.80" stroke="#000" stroke-width="1.6"/>
<line x1="853.25" y1="2002.20" x2="853.25" y2="2119.70" stroke="#808080" stroke-width="1.5"/>
<line x1="1056.75" y1="1841.00" x2="1056.75" y2="2017.90" stroke="#808080" stroke-width="1.5"/>
<line x1="853.25" y1="2100.60" x2="1056.75" y2="1968.30" stroke="#000" stroke-width="5.4"/>
<rect x="849.25" y="2096.60" width="8.0" height="8.0" fill="#000"/>
<rect x="1052.75" y="1964.30" width="8.0" height="8.0" fill="#000"/>
<line x1="853.25" y1="2060.70" x2="1056.75" y2="1930.90" stroke="#808080" stroke-width="5.0"/>
<path d="M853.25,2056.50 L857.35,2064.70 L849.15,2064.70 Z" fill="#808080"/>
<path d="M1056.75,1926.70 L1060.85,1934.90 L1052.65,1934.90 Z" fill="#808080"/>
<rect x="751.50" y="1795.00" width="407.00" height="390.50" fill="none" stroke="#1c1c1c" stroke-width="1.5"/>
<rect x="1101.60" y="1813.25" width="12.4" height="5.5" rx="1.8" fill="#000"/>
<rect x="1104.00" y="1811.60" width="8.0" height="8.7" rx="1.2" fill="#000"/>
<text class="n" transform="translate(1112.79,1822.90) scale(0.8503,1)" font-size="22.6" fill="#000">G1</text>
<rect x="1101.60" y="1838.65" width="12.4" height="5.5" rx="1.8" fill="#808080"/>
<path d="M1107.60,1837.40 L1111.60,1846.10 L1104.20,1846.10 Z" fill="#808080"/>
<text class="n" transform="translate(1112.79,1848.30) scale(0.8503,1)" font-size="22.6" fill="#000">G2</text>
<text class="n" transform="translate(840.50,2219.90) scale(0.8239,1)" font-size="22.4" fill="#000">Δ1</text>
<text class="n" transform="translate(1044.56,2219.90) scale(0.8707,1)" font-size="22.4" fill="#000">Δ2</text>
<text class="n" transform="translate(913.02,2243.50) scale(0.8731,1)" font-size="22.4" fill="#000">Delta time</text>
<text class="b" transform="translate(668.50,2111.50) rotate(-90) scale(1.1598,1)" font-size="19.5" fill="#000">CBCL - Externalizing</text>
<text class="r" transform="translate(691.80,2073.24) rotate(-90) scale(1.1888,1)" font-size="19.1" fill="#000">(T-score delta)</text>
<text class="s" transform="translate(638.11,2276.20) scale(1.0166,1)" font-size="29.3" fill="#000">3g</text>
</svg>
</body></html>
